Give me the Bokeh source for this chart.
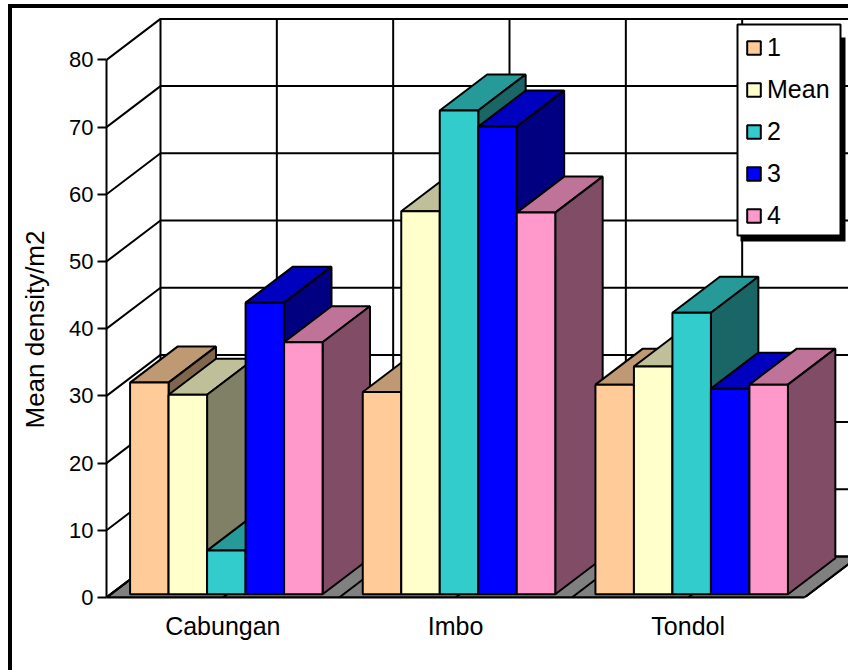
from bokeh.plotting import figure
from bokeh.models import (Range1d, BoxAnnotation, Legend, LegendItem, FixedTicker, Title,
                          InlineStyleSheet)
from bokeh.embed import file_html
from bokeh.resources import INLINE

categories = ["Cabungan", "Imbo", "Tondol"]
series_names = ["1", "Mean", "2", "3", "4"]
series_colors = ["#FFCC99", "#FFFFCC", "#33CCCC", "#0000FF", "#FF99CC"]
y_ticks = [0, 10, 20, 30, 40, 50, 60, 70, 80]
y_title = "Mean density/m2"

values_1 = [31.5, 30.1, 31.2]
values_mean = [29.7, 57.0, 33.9]
values_2 = [6.5, 72.0, 41.9]
values_3 = [43.4, 69.6, 30.6]
values_4 = [37.5, 56.8, 31.2]
all_values = [values_1, values_mean, values_2, values_3, values_4]

# pixel geometry of the page
W, H = 848, 670
LEFT, TOP, BOTTOM = 106, 12, 73
PX_X = 232.67        # pixels per category
PX_Y = 6.72          # pixels per value unit
DEPTH_X = 54 / PX_X  # wall depth in data units
DEPTH_Y = 41 / PX_Y
BAR_W = 38.5 / PX_X
BAR_DX = 36 / 41 * DEPTH_X
BAR_DY = 36 / 41 * DEPTH_Y
OFF_X = 3.5 / PX_X
OFF_Y = 3.2 / PX_Y
N = len(categories)


def shade(hex_color, f):
    r, g, b = [int(hex_color[i:i + 2], 16) for i in (1, 3, 5)]
    return "#%02X%02X%02X" % (round(r * f), round(g * f), round(b * f))


def canvas_box(left, right, top, bottom, **kw):
    return BoxAnnotation(left=left, right=right, top=top, bottom=bottom,
                         left_units="canvas", right_units="canvas",
                         top_units="canvas", bottom_units="canvas",
                         fill_alpha=1, **kw)


frame_w = W - LEFT
frame_h = H - TOP - BOTTOM
p = figure(width=W, height=H, output_backend="svg", toolbar_location=None,
           x_range=Range1d(0, frame_w / PX_X), y_range=Range1d(0, frame_h / PX_Y),
           min_border_left=LEFT, min_border_right=0, min_border_top=TOP,
           min_border_bottom=BOTTOM, outline_line_color=None,
           background_fill_color="white", border_fill_color="white")
p.xgrid.visible = False
p.ygrid.visible = False

# black page border drawn on the figure's host element
p.stylesheets = [InlineStyleSheet(css="""
:host { position: relative; }
:host::before { content: ""; position: absolute; left: 8px; top: 4px; width: 4px; height: 666px;
                background: #000; z-index: 10; }
:host::after  { content: ""; position: absolute; left: 8px; top: 4px; width: 840px; height: 4px;
                background: #000; z-index: 10; }
""")]

# floor
p.patch([0, N, N + DEPTH_X, DEPTH_X], [0, 0, DEPTH_Y, DEPTH_Y],
        fill_color="#808080", line_color="black", line_width=2)

# walls: gridlines
top_val = y_ticks[-1]
half_steps = [i / 2 for i in range(2 * N + 1)]
xs, ys = [], []
for t in y_ticks:
    xs.append([0, DEPTH_X, N + DEPTH_X])
    ys.append([t, t + DEPTH_Y, t + DEPTH_Y])
for h in half_steps:
    xs.append([h, h + DEPTH_X, h + DEPTH_X])
    ys.append([0, DEPTH_Y, top_val + DEPTH_Y])
p.multi_line(xs, ys, line_color="black", line_width=2)

# 3D bars, painted from left to right
legend_renderers = {}
for g in range(N):
    for s, name in enumerate(series_names):
        v = all_values[s][g]
        c = series_colors[s]
        x0 = g + 0.5 - len(series_names) * BAR_W / 2 + s * BAR_W + OFF_X
        x1 = x0 + BAR_W
        y0 = OFF_Y
        y1 = OFF_Y + v
        p.patch([x0, x1, x1 + BAR_DX, x0 + BAR_DX], [y1, y1, y1 + BAR_DY, y1 + BAR_DY],
                fill_color=shade(c, 0.75), line_color="black", line_width=2)
        p.patch([x1, x1 + BAR_DX, x1 + BAR_DX, x1], [y0, y0 + BAR_DY, y1 + BAR_DY, y1],
                fill_color=shade(c, 0.5), line_color="black", line_width=2)
        r = p.vbar(x=[(x0 + x1) / 2], width=BAR_W, bottom=[y0], top=[y1],
                   fill_color=c, line_color="black", line_width=2)
        if g == 0:
            legend_renderers[name] = r

# axes
ya = p.yaxis[0]
ya.ticker = FixedTicker(ticks=y_ticks)
ya.bounds = (0, top_val)
ya.minor_tick_line_color = None
ya.major_tick_in = 0
ya.major_tick_out = 9
ya.major_tick_line_width = 2
ya.major_tick_line_color = "black"
ya.axis_line_width = 2
ya.axis_line_color = "black"
ya.major_label_text_font = "Liberation Sans"
ya.major_label_text_font_size = "22px"
ya.major_label_text_color = "black"
ya.major_label_standoff = 4

p.add_layout(Title(text=y_title, align="left", offset=169, standoff=33,
                   text_font="Liberation Sans", text_font_size="26px",
                   text_font_style="normal", text_color="black"), "left")

xa = p.xaxis[0]
centers = [i + 0.5 for i in range(N)]
xa.ticker = FixedTicker(ticks=centers)
xa.major_label_overrides = {c: n for c, n in zip(centers, categories)}
xa.bounds = (0, N)
xa.minor_tick_line_color = None
xa.major_tick_in = 0
xa.major_tick_out = 0
xa.axis_line_width = 2
xa.axis_line_color = "black"
xa.major_label_text_font = "Liberation Sans"
xa.major_label_text_font_size = "25px"
xa.major_label_text_color = "black"
xa.major_label_standoff = 14

# legend box, in canvas pixels
p.add_layout(canvas_box(740, 845, 37, 241, fill_color="black", line_color=None))
p.add_layout(canvas_box(737, 840, 24, 235, fill_color="white", line_color="black",
                        line_width=2, line_alpha=1))

items = [LegendItem(label=n, renderers=[legend_renderers[n]]) for n in series_names]
legend = Legend(items=items, location=(745 - LEFT, 367), orientation="vertical",
                background_fill_alpha=0, border_line_color=None, padding=0, margin=0,
                glyph_width=17, glyph_height=17, label_height=17, spacing=13,
                label_standoff=5, label_text_font="Liberation Sans",
                label_text_font_size="25px", label_text_color="black")
p.add_layout(legend)

open("out.html", "w").write(file_html(p, INLINE))
